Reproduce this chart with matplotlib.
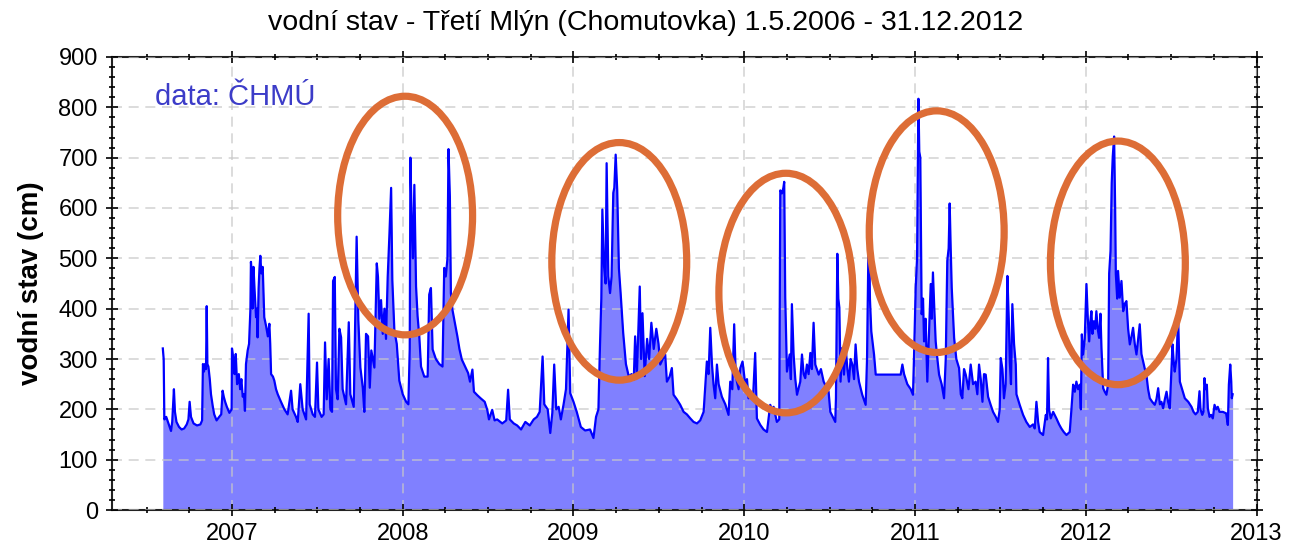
import matplotlib
matplotlib.use("Agg")
import matplotlib.pyplot as plt
from matplotlib.patches import Ellipse
from matplotlib.ticker import MultipleLocator

# ---- data (decimal year, water level in cm) ----
years_2006_07 = [2006.595, 2006.600, 2006.604, 2006.615, 2006.625, 2006.635, 2006.643, 2006.650, 2006.660, 2006.666,
                 2006.675, 2006.690, 2006.705, 2006.720, 2006.735, 2006.745, 2006.752, 2006.760, 2006.775, 2006.795,
                 2006.815, 2006.825, 2006.830, 2006.836, 2006.842, 2006.848, 2006.852, 2006.856, 2006.862, 2006.870,
                 2006.877, 2006.888, 2006.896, 2006.910, 2006.925, 2006.937, 2006.945, 2006.952, 2006.960, 2006.970,
                 2006.985, 2006.998, 2007.000, 2007.008, 2007.015, 2007.022, 2007.030, 2007.040, 2007.048, 2007.055,
                 2007.063, 2007.070, 2007.076, 2007.082, 2007.092, 2007.100, 2007.108, 2007.111, 2007.116, 2007.121,
                 2007.126, 2007.132, 2007.141, 2007.147, 2007.150, 2007.156, 2007.161, 2007.166, 2007.172, 2007.180,
                 2007.186, 2007.189, 2007.200, 2007.210, 2007.219, 2007.224, 2007.229, 2007.240, 2007.248, 2007.258,
                 2007.268]
level_2006_07 = [321, 300, 180, 185, 175, 165, 157, 175, 240, 195,
                 175, 165, 160, 162, 170, 180, 215, 185, 172, 168,
                 170, 178, 290, 275, 290, 280, 405, 290, 285, 260,
                 230, 205, 190, 178, 185, 190, 237, 225, 215, 205,
                 193, 200, 321, 300, 270, 310, 250, 270, 240, 260,
                 225, 230, 197, 290, 317, 330, 400, 493, 470, 400,
                 483, 440, 383, 400, 343, 440, 480, 505, 470, 483,
                 420, 383, 365, 345, 370, 330, 270, 265, 257, 240,
                 230]

years_2007_08 = [2007.287, 2007.307, 2007.326, 2007.346, 2007.355, 2007.375, 2007.385, 2007.400, 2007.414, 2007.434,
                 2007.449, 2007.455, 2007.473, 2007.486, 2007.498, 2007.506, 2007.525, 2007.537, 2007.545, 2007.555,
                 2007.566, 2007.576, 2007.586, 2007.592, 2007.602, 2007.609, 2007.619, 2007.629, 2007.639, 2007.648,
                 2007.668, 2007.684, 2007.693, 2007.713, 2007.730, 2007.740, 2007.752, 2007.766, 2007.775, 2007.785,
                 2007.797, 2007.807, 2007.816, 2007.834, 2007.848, 2007.855, 2007.863, 2007.873, 2007.883, 2007.893,
                 2007.902, 2007.912, 2007.922, 2007.932, 2007.939, 2007.951, 2007.965, 2007.980, 2008.000, 2008.020,
                 2008.033]
level_2007_08 = [215, 200, 190, 237, 200, 185, 175, 250, 200, 180,
                 390, 210, 190, 185, 293, 200, 185, 190, 333, 220,
                 300, 200, 195, 455, 463, 240, 220, 360, 343, 240,
                 210, 373, 230, 205, 543, 377, 283, 243, 195, 350,
                 345, 243, 317, 283, 490, 463, 380, 417, 350, 400,
                 340, 463, 547, 640, 457, 357, 330, 257, 230, 215,
                 210]

years_2008_09 = [2008.041, 2008.045, 2008.052, 2008.060, 2008.068, 2008.078, 2008.087, 2008.097, 2008.107, 2008.126,
                 2008.146, 2008.155, 2008.165, 2008.175, 2008.194, 2008.214, 2008.233, 2008.243, 2008.252, 2008.262,
                 2008.268, 2008.276, 2008.282, 2008.291, 2008.305, 2008.320, 2008.332, 2008.346, 2008.365, 2008.383,
                 2008.394, 2008.408, 2008.417, 2008.437, 2008.456, 2008.480, 2008.495, 2008.505, 2008.524, 2008.538,
                 2008.553, 2008.583, 2008.606, 2008.617, 2008.627, 2008.650, 2008.670, 2008.693, 2008.718, 2008.744,
                 2008.767, 2008.786, 2008.802, 2008.819, 2008.829, 2008.849, 2008.864, 2008.876, 2008.887, 2008.899,
                 2008.913, 2008.926, 2008.942, 2008.956, 2008.971, 2008.981, 2009.000, 2009.019, 2009.043, 2009.068,
                 2009.097, 2009.117, 2009.132, 2009.146, 2009.155, 2009.163, 2009.169, 2009.179, 2009.188, 2009.194,
                 2009.204, 2009.214, 2009.223, 2009.233, 2009.239, 2009.247, 2009.256, 2009.266, 2009.276, 2009.291,
                 2009.307, 2009.324, 2009.340, 2009.353, 2009.361, 2009.371, 2009.388, 2009.396, 2009.404, 2009.417,
                 2009.431, 2009.443, 2009.456, 2009.470, 2009.485]
level_2008_09 = [320, 700, 577, 500, 646, 444, 385, 345, 285, 265,
                 265, 428, 441, 319, 300, 290, 285, 481, 464, 500,
                 717, 623, 431, 398, 372, 345, 320, 299, 285, 272,
                 255, 279, 235, 228, 222, 215, 199, 180, 199, 178,
                 180, 172, 178, 239, 180, 172, 168, 160, 175, 168,
                 180, 185, 195, 305, 210, 200, 153, 193, 289, 200,
                 205, 180, 210, 240, 398, 232, 215, 195, 165, 158,
                 160, 143, 185, 200, 325, 420, 597, 484, 450, 689,
                 464, 431, 464, 630, 640, 706, 636, 480, 431, 352,
                 290, 265, 270, 259, 345, 266, 444, 300, 391, 266,
                 340, 300, 372, 320, 360]

years_2009_10 = [2009.498, 2009.508, 2009.523, 2009.537, 2009.547, 2009.563, 2009.576, 2009.586, 2009.605, 2009.625,
                 2009.645, 2009.664, 2009.684, 2009.703, 2009.723, 2009.742, 2009.762, 2009.771, 2009.781, 2009.791,
                 2009.801, 2009.811, 2009.820, 2009.830, 2009.840, 2009.850, 2009.869, 2009.889, 2009.908, 2009.918,
                 2009.930, 2009.941, 2009.949, 2009.957, 2009.967, 2009.977, 2009.990, 2010.006, 2010.016, 2010.025,
                 2010.035, 2010.051, 2010.064, 2010.074, 2010.094, 2010.113, 2010.133, 2010.152, 2010.162, 2010.172,
                 2010.191, 2010.205, 2010.211, 2010.221, 2010.229, 2010.234, 2010.240, 2010.250, 2010.266, 2010.273,
                 2010.279, 2010.289, 2010.299, 2010.309, 2010.328, 2010.338, 2010.348, 2010.357, 2010.367, 2010.377,
                 2010.387, 2010.396, 2010.406, 2010.416, 2010.436, 2010.449, 2010.465, 2010.494, 2010.504, 2010.533]
level_2009_10 = [330, 289, 300, 309, 255, 265, 282, 229, 220, 209,
                 195, 190, 182, 175, 172, 178, 195, 242, 295, 270,
                 362, 289, 250, 222, 289, 250, 225, 210, 189, 255,
                 240, 369, 280, 255, 240, 282, 295, 249, 260, 222,
                 235, 220, 312, 182, 169, 160, 155, 209, 200, 205,
                 175, 180, 635, 629, 640, 652, 422, 275, 309, 260,
                 409, 309, 260, 229, 255, 309, 270, 262, 289, 270,
                 312, 280, 372, 289, 269, 280, 255, 235, 195, 175]

years_2010_11 = [2010.537, 2010.545, 2010.551, 2010.557, 2010.564, 2010.574, 2010.584, 2010.594, 2010.604, 2010.613,
                 2010.623, 2010.633, 2010.643, 2010.652, 2010.662, 2010.672, 2010.691, 2010.711, 2010.719, 2010.725,
                 2010.730, 2010.736, 2010.744, 2010.760, 2010.770, 2010.916, 2010.926, 2010.936, 2010.955, 2010.975,
                 2010.988, 2010.994, 2011.004, 2011.012, 2011.020, 2011.025, 2011.031, 2011.039, 2011.047, 2011.053,
                 2011.062, 2011.072, 2011.082, 2011.092, 2011.098, 2011.105, 2011.113, 2011.121, 2011.131, 2011.141,
                 2011.156, 2011.170, 2011.180, 2011.189, 2011.197, 2011.203, 2011.209, 2011.215, 2011.229, 2011.242,
                 2011.258, 2011.268, 2011.277, 2011.287, 2011.297, 2011.313, 2011.326, 2011.340, 2011.355, 2011.365,
                 2011.375, 2011.385, 2011.395, 2011.404, 2011.414, 2011.428, 2011.443, 2011.457, 2011.473, 2011.486,
                 2011.496, 2011.502, 2011.512, 2011.521, 2011.531, 2011.541, 2011.549, 2011.555, 2011.562, 2011.570,
                 2011.580, 2011.590]
level_2010_11 = [222, 509, 420, 402, 255, 322, 269, 322, 280, 255,
                 300, 289, 260, 329, 280, 255, 229, 209, 300, 455,
                 595, 420, 355, 309, 269, 269, 289, 270, 250, 240,
                 229, 302, 442, 500, 817, 712, 700, 389, 420, 335,
                 380, 255, 350, 449, 380, 472, 400, 335, 300, 269,
                 250, 222, 300, 495, 520, 609, 520, 442, 342, 300,
                 282, 230, 222, 280, 269, 240, 289, 250, 255, 230,
                 289, 260, 215, 270, 269, 225, 209, 195, 185, 175,
                 200, 302, 280, 222, 250, 465, 380, 295, 250, 409,
                 330, 289]

years_2011_12 = [2011.594, 2011.613, 2011.633, 2011.652, 2011.672, 2011.691, 2011.701, 2011.711, 2011.721, 2011.730,
                 2011.750, 2011.766, 2011.773, 2011.779, 2011.785, 2011.795, 2011.809, 2011.828, 2011.844, 2011.857,
                 2011.871, 2011.887, 2011.906, 2011.916, 2011.926, 2011.936, 2011.945, 2011.955, 2011.965, 2011.971,
                 2011.977, 2011.984, 2011.994, 2012.004, 2012.012, 2012.020, 2012.027, 2012.033, 2012.039, 2012.047,
                 2012.055, 2012.062, 2012.070, 2012.078, 2012.086, 2012.092, 2012.102, 2012.111, 2012.121, 2012.131,
                 2012.137, 2012.145, 2012.152, 2012.158, 2012.166, 2012.172, 2012.176, 2012.184, 2012.189, 2012.199,
                 2012.209, 2012.219, 2012.229, 2012.238, 2012.248, 2012.258, 2012.268, 2012.277, 2012.287, 2012.297,
                 2012.307, 2012.316, 2012.326, 2012.336, 2012.346, 2012.355, 2012.365, 2012.375, 2012.389, 2012.404,
                 2012.414, 2012.424, 2012.434, 2012.443, 2012.453, 2012.463, 2012.473, 2012.482, 2012.492, 2012.502,
                 2012.508, 2012.516, 2012.521, 2012.531, 2012.541, 2012.547, 2012.551, 2012.564, 2012.580, 2012.600,
                 2012.619, 2012.631, 2012.643, 2012.656, 2012.666, 2012.672, 2012.682, 2012.689, 2012.695, 2012.701,
                 2012.709, 2012.715, 2012.725, 2012.734, 2012.744, 2012.754, 2012.764, 2012.773, 2012.783, 2012.803,
                 2012.822, 2012.832, 2012.838, 2012.846, 2012.852, 2012.855, 2012.860]
level_2011_12 = [230, 209, 189, 175, 165, 170, 162, 215, 175, 155,
                 149, 189, 180, 302, 200, 182, 195, 182, 170, 162,
                 155, 149, 155, 200, 249, 235, 255, 240, 249, 200,
                 349, 309, 340, 449, 380, 335, 375, 395, 350, 375,
                 360, 395, 360, 342, 390, 322, 242, 235, 229, 250,
                 470, 515, 650, 702, 742, 600, 469, 420, 475, 422,
                 455, 395, 410, 415, 360, 329, 345, 362, 330, 309,
                 340, 369, 310, 295, 280, 269, 240, 222, 215, 209,
                 220, 242, 210, 215, 202, 220, 235, 215, 202, 280,
                 329, 290, 275, 300, 382, 300, 255, 240, 222, 215,
                 205, 195, 190, 195, 236, 200, 189, 195, 262, 240,
                 249, 202, 185, 189, 182, 209, 200, 205, 195, 195,
                 192, 169, 249, 289, 255, 222, 230]

x_ticks = [2007, 2008, 2009, 2010, 2011, 2012, 2013]
y_ticks = [0, 100, 200, 300, 400, 500, 600, 700, 800, 900]

# highlighted flood seasons: (centre year, centre level, width in years, height in cm)
ellipse_centres_x = [2008.014, 2009.268, 2010.244, 2011.127, 2012.188]
ellipse_centres_y = [585, 494, 431, 553, 491]
ellipse_widths = [0.79, 0.79, 0.785, 0.79, 0.79]
ellipse_heights = [474, 472, 476, 480, 484]

title = "vodní stav - Třetí Mlýn (Chomutovka) 1.5.2006 - 31.12.2012"
ylabel = "vodní stav (cm)"
note = "data: ČHMÚ"

# ---- assemble ----
years = (years_2006_07 + years_2007_08 + years_2008_09 + years_2009_10
         + years_2010_11 + years_2011_12)
levels = (level_2006_07 + level_2007_08 + level_2008_09 + level_2009_10
          + level_2010_11 + level_2011_12)

plt.rcParams['font.family'] = ['Liberation Sans', 'DejaVu Sans']

fig = plt.figure(figsize=(12.91, 5.56), dpi=100)
ax = fig.add_axes([0.0871, 0.0827, 0.9733 - 0.0871, 0.8975 - 0.0827])

ax.fill_between(years, 0, levels, color='#8080ff', linewidth=0, zorder=1)
ax.plot(years, levels, color='#0000ff', linewidth=1.6, zorder=3)

for cx, cy, w, h in zip(ellipse_centres_x, ellipse_centres_y, ellipse_widths, ellipse_heights):
    ax.add_patch(Ellipse((cx, cy), w, h, fill=False, edgecolor='#dd6d36',
                         linewidth=5.2, zorder=4))

ax.set_xlim(2006.30, 2013.0)
ax.set_ylim(0, 900)
ax.set_xticks(x_ticks)
ax.set_yticks(y_ticks)
ax.xaxis.set_minor_locator(MultipleLocator(0.25))
ax.yaxis.set_minor_locator(MultipleLocator(20))

ax.set_axisbelow(False)
ax.grid(True, which='major', color='#c8c8c8', linestyle=(0, (6, 4)), linewidth=1.2, alpha=0.75)

ax.tick_params(which='both', direction='inout', top=True, right=True, width=1.2, colors='black')
ax.tick_params(which='major', length=9, labelsize=17, pad=5)
ax.tick_params(which='minor', length=5)
ax.tick_params(axis='x', which='major', labeltop=False)
ax.tick_params(axis='y', which='major', labelright=False, pad=6)
for sp in ax.spines.values():
    sp.set_linewidth(1.5)
    sp.set_color('#222222')

ax.set_ylabel(ylabel, fontsize=20, fontweight='bold', labelpad=10)
fig.text(0.5, 0.958, title, ha='center', va='center', fontsize=20.5)
ax.text(2006.55, 820, note, color='#3c3cc8', fontsize=21, ha='left', va='center', zorder=5)

fig.savefig('out.png', dpi=100)
